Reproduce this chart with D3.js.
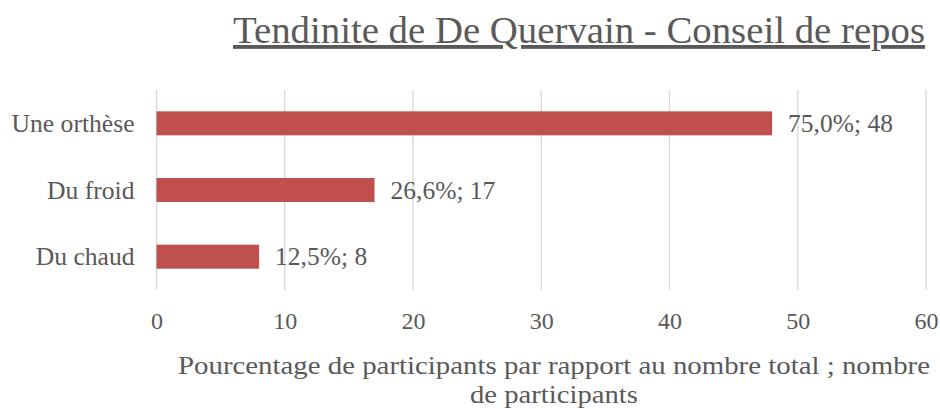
<!DOCTYPE html>
<html>
<head>
<meta charset="utf-8">
<script src="https://cdn.jsdelivr.net/npm/d3@7"></script>
<style>
  html, body { margin: 0; padding: 0; background: #fff; }
  svg { display: block; }
  text { font-family: "Liberation Serif", "DejaVu Serif", serif; fill: #595959; }
</style>
</head>
<body>
<svg id="chart" width="940" height="409"></svg>
<script>
// Advice given for De Quervain's tendinitis (rest recommendations)
const categories = ["Une orthèse", "Du froid", "Du chaud"];
const counts = [48, 17, 8];
const percentages = ["75,0%", "26,6%", "12,5%"];
const xTicks = [0, 10, 20, 30, 40, 50, 60];

const titleText = "Tendinite de De Quervain - Conseil de repos";
const axisTitleLines = [
  "Pourcentage de participants par rapport au nombre total ; nombre",
  "de participants"
];

const svg = d3.select("#chart");
const margin = { left: 156.5, right: 14, top: 90, bottom: 119 };
const W = 940, H = 409;

const x = d3.scaleLinear().domain([0, 60]).range([margin.left, W - margin.right]);
const y = d3.scaleBand().domain(categories).range([margin.top, H - margin.bottom])
  .paddingInner(0.64).paddingOuter(0.32);

// vertical gridlines
svg.append("g").selectAll("line").data(xTicks).join("line")
  .attr("x1", d => x(d)).attr("x2", d => x(d))
  .attr("y1", margin.top).attr("y2", H - margin.bottom)
  .attr("stroke", "#d9d9d9").attr("stroke-width", 1.3);

// x axis tick labels
const xAxis = d3.axisBottom(x).tickValues(xTicks).tickSize(0).tickPadding(0).tickFormat(d3.format("d"));
const gx = svg.append("g").attr("transform", `translate(0,${H - margin.bottom})`).call(xAxis);
gx.select(".domain").remove();
gx.selectAll("text").attr("font-size", 24).attr("fill", "#595959")
  .attr("y", 39).attr("dy", null)
  .style("font-family", "Liberation Serif, serif");

// y axis category labels
const yAxis = d3.axisLeft(y).tickSize(0).tickPadding(22);
const gy = svg.append("g").attr("transform", `translate(${margin.left},0)`).call(yAxis);
gy.select(".domain").remove();
gy.selectAll("text").attr("font-size", 25.6).attr("fill", "#595959")
  .attr("dy", "0.34em")
  .style("font-family", "Liberation Serif, serif");

// bars
svg.append("g").selectAll("rect").data(categories).join("rect")
  .attr("x", x(0))
  .attr("y", d => y(d))
  .attr("width", (d, i) => x(counts[i]) - x(0))
  .attr("height", y.bandwidth())
  .attr("fill", "#c0504d");

// value labels
svg.append("g").selectAll("text").data(categories).join("text")
  .attr("x", (d, i) => x(counts[i]) + 16)
  .attr("y", d => y(d) + y.bandwidth() / 2)
  .attr("dy", "0.34em")
  .attr("font-size", 25.5)
  .text((d, i) => `${percentages[i]}; ${counts[i]}`);

// chart title (underlined)
svg.append("text")
  .attr("x", 233).attr("y", 43)
  .attr("font-size", 38.5)
  .attr("textLength", 692).attr("lengthAdjust", "spacingAndGlyphs")
  .attr("text-decoration", "underline")
  .text(titleText);

// axis title, two lines
svg.append("text")
  .attr("x", 178).attr("y", 374)
  .attr("font-size", 26)
  .attr("textLength", 752).attr("lengthAdjust", "spacingAndGlyphs")
  .text(axisTitleLines[0]);
svg.append("text")
  .attr("x", 470).attr("y", 402.6)
  .attr("font-size", 26)
  .attr("textLength", 168).attr("lengthAdjust", "spacingAndGlyphs")
  .text(axisTitleLines[1]);
</script>
</body>
</html>
